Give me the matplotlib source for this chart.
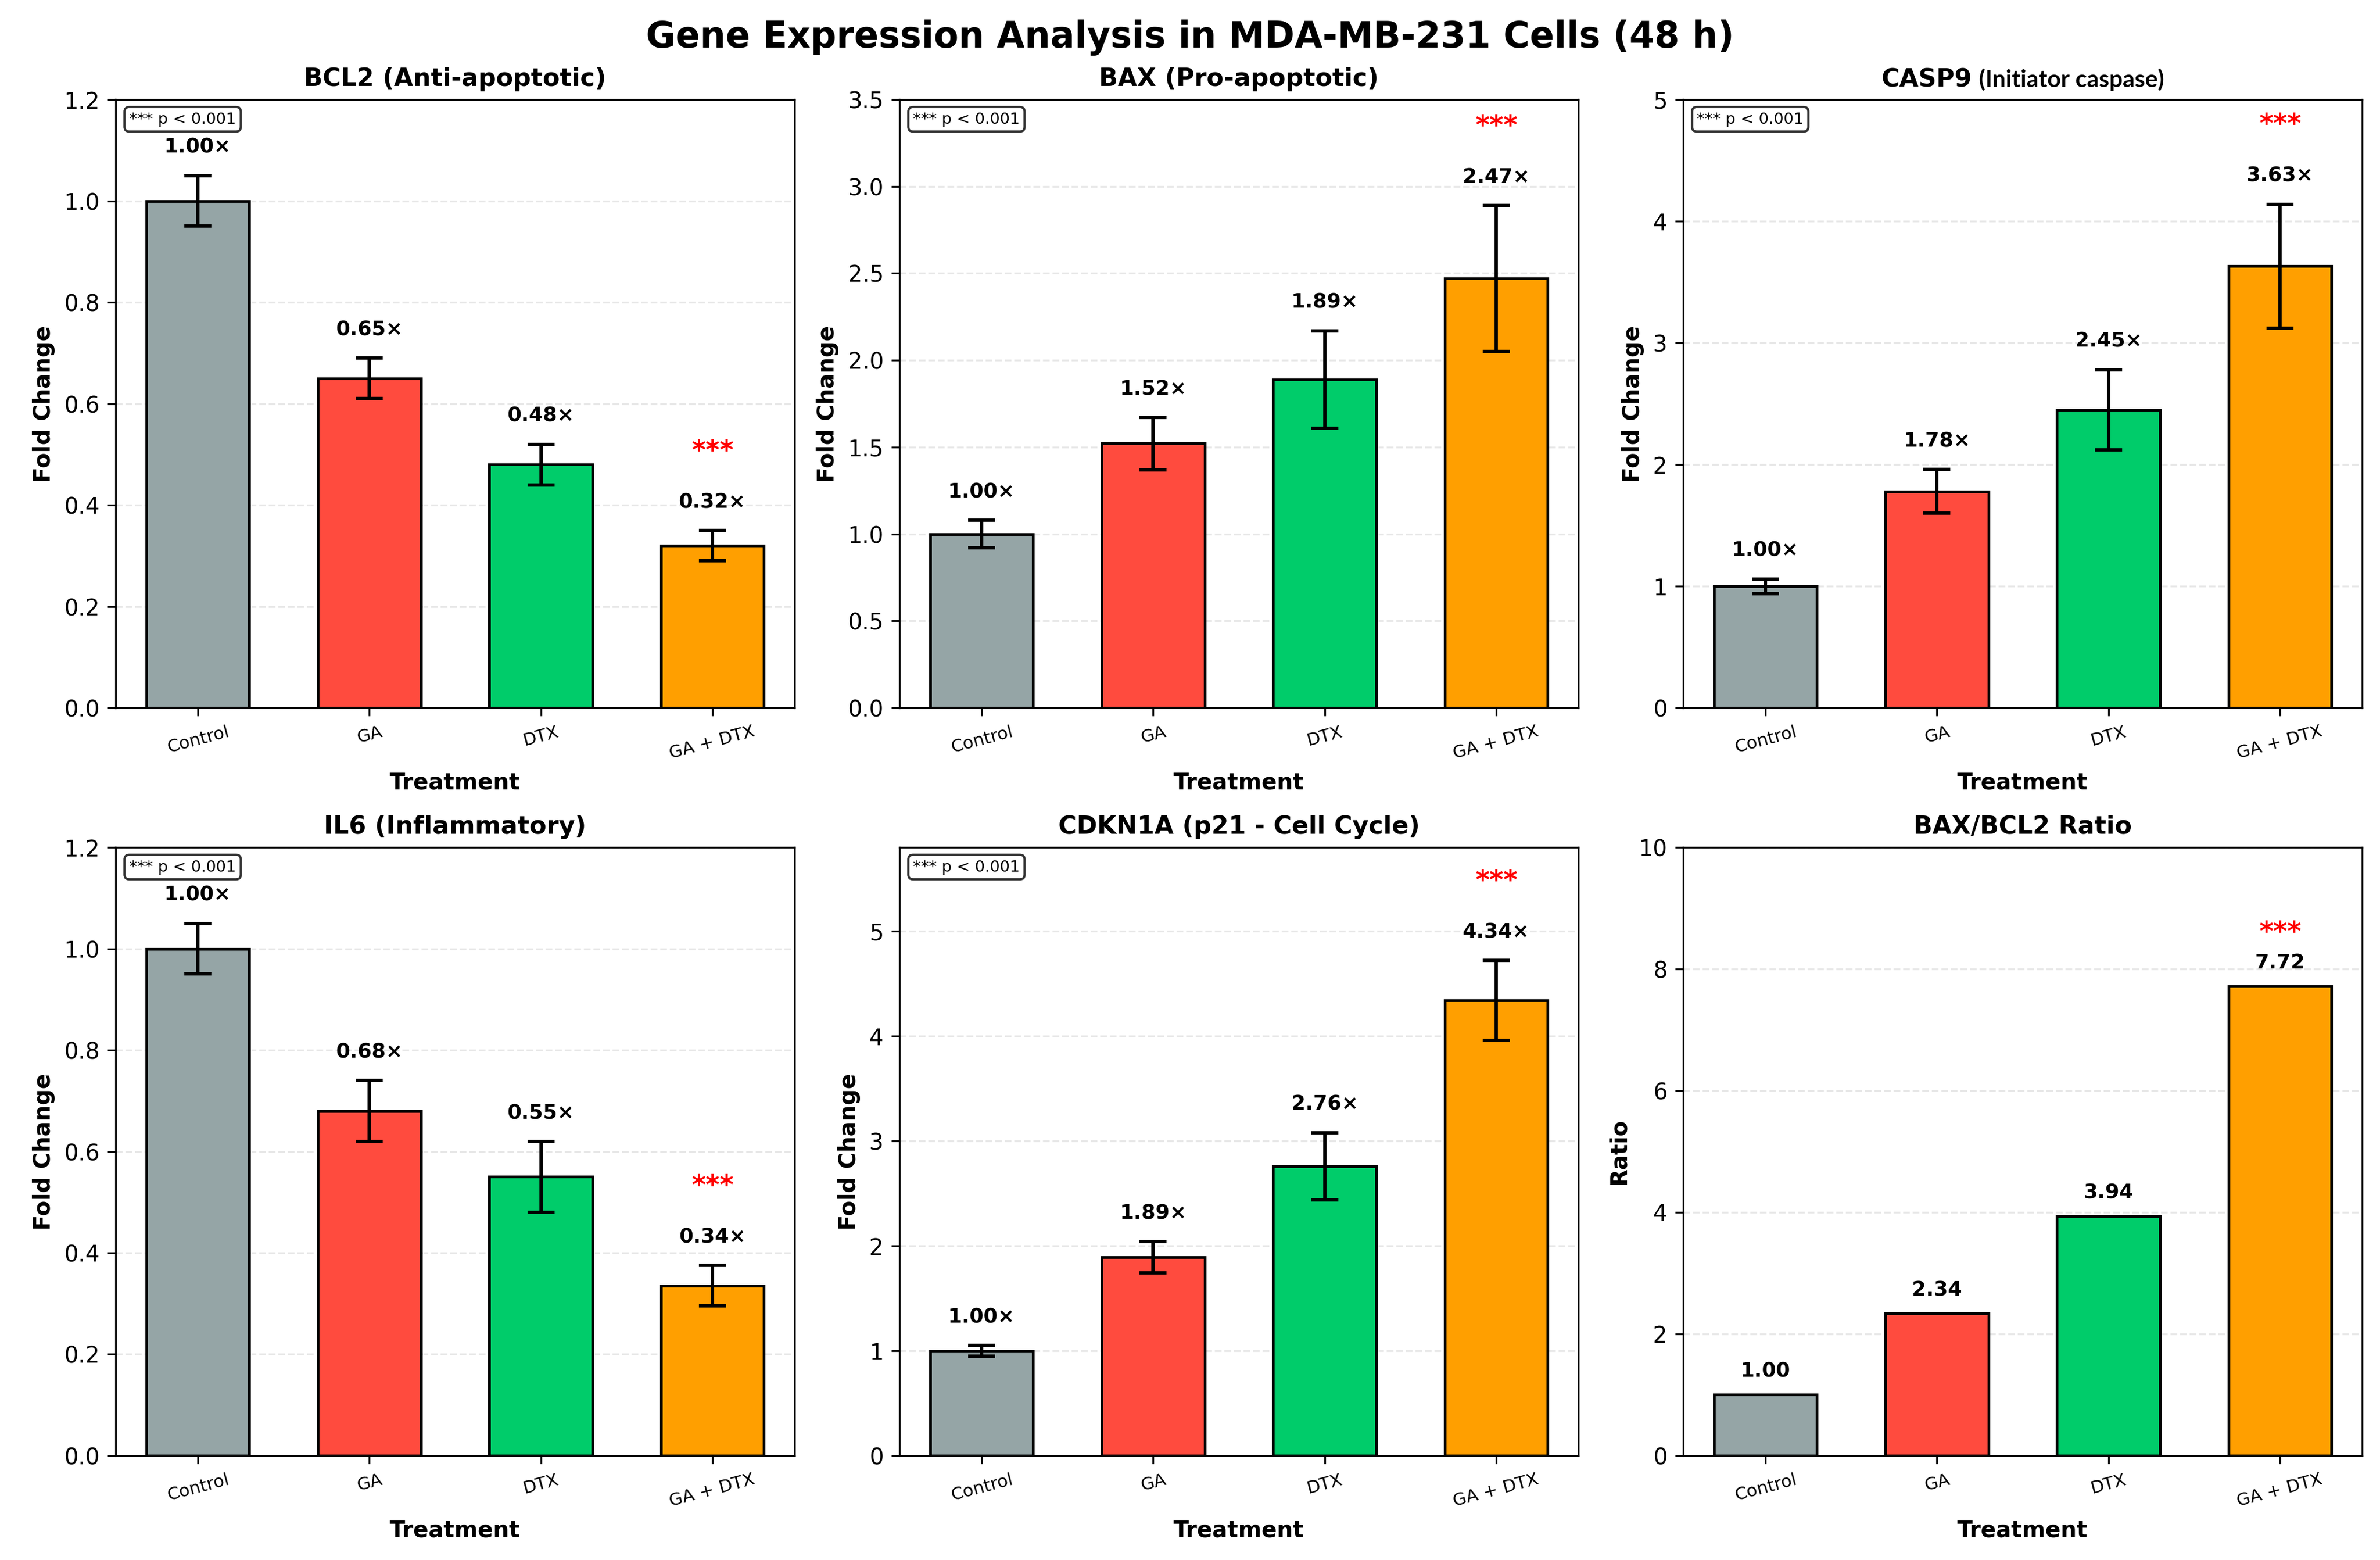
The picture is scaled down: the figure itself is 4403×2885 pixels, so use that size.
import numpy as np
import matplotlib.pyplot as plt
from matplotlib.offsetbox import TextArea, HPacker, AnchoredOffsetbox

treatments = ['Control', 'GA', 'DTX', 'GA + DTX']
colors = ['#95A5A6', '#FF4B3E', '#00CC6A', '#FF9F00']

bcl2 = [1.00, 0.65, 0.48, 0.32]
bcl2_err = [0.05, 0.04, 0.04, 0.03]
bax = [1.00, 1.52, 1.89, 2.47]
bax_err = [0.08, 0.15, 0.28, 0.42]
casp9 = [1.00, 1.78, 2.45, 3.63]
casp9_err = [0.06, 0.18, 0.33, 0.51]
il6 = [1.00, 0.68, 0.55, 0.335]
il6_err = [0.05, 0.06, 0.07, 0.04]
cdkn1a = [1.00, 1.89, 2.76, 4.34]
cdkn1a_err = [0.05, 0.15, 0.32, 0.38]

# BAX/BCL2 ratio from the two panels above
ratio = np.array(bax) / np.array(bcl2)

panels = [
    ('BCL2 (Anti-apoptotic)', bcl2, bcl2_err, 1.2),
    ('BAX (Pro-apoptotic)', bax, bax_err, 3.5),
    ('CASP9', casp9, casp9_err, 5.0),
    ('IL6 (Inflammatory)', il6, il6_err, 1.2),
    ('CDKN1A (p21 - Cell Cycle)', cdkn1a, cdkn1a_err, 5.8),
]

fig, axes = plt.subplots(2, 3, figsize=(4403 / 300, 2885 / 300), dpi=300)
plt.subplots_adjust(left=0.0486, right=0.9925, top=0.9362, bottom=0.0669,
                    wspace=0.1545, hspace=0.2293)
axes = axes.flatten()
x = np.arange(len(treatments))

for ax, (title, vals, errs, ymax) in zip(axes[:5], panels):
    ax.bar(x, vals, width=0.6, color=colors, edgecolor='black', linewidth=1.2,
           yerr=errs, capsize=6, error_kw={'elinewidth': 1.5, 'capthick': 1.5})
    ax.set_ylim(0, ymax)
    for i, (v, e) in enumerate(zip(vals, errs)):
        ax.text(i, v + e + 0.03 * ymax, f'{v:.2f}×', ha='center', va='bottom',
                fontsize=9, fontweight='bold')
    top = vals[-1] + errs[-1]
    ax.text(3, top + 0.13 * ymax, '***', ha='center', va='center',
            fontsize=12, fontweight='bold', color='red')
    ax.text(0.02, 0.98, '*** p < 0.001', transform=ax.transAxes, fontsize=7,
            va='top', bbox=dict(boxstyle='round', facecolor='white', alpha=0.8))
    ax.set_ylabel('Fold Change', fontsize=10, fontweight='bold')
    if title == 'CASP9':
        t1 = TextArea('CASP9', textprops=dict(fontsize=11, fontweight='bold'))
        t2 = TextArea('(Initiator caspase)',
                      textprops=dict(fontsize=10.5, family='Lato', fontweight='bold'))
        hp = HPacker(children=[t1, t2], align='baseline', pad=0, sep=3)
        anc = AnchoredOffsetbox(loc='lower center', child=hp, pad=0, borderpad=0,
                                frameon=False, bbox_to_anchor=(0.5, 1.012),
                                bbox_transform=ax.transAxes)
        ax.add_artist(anc)
    else:
        ax.set_title(title, fontsize=11, fontweight='bold')

# ratio panel
ax = axes[5]
ax.bar(x, ratio, width=0.6, color=colors, edgecolor='black', linewidth=1.2)
ax.set_ylim(0, 10)
for i, v in enumerate(ratio):
    ax.text(i, v + 0.22, f'{v:.2f}', ha='center', va='bottom',
            fontsize=9, fontweight='bold')
ax.text(3, ratio[-1] + 0.88, '***', ha='center', va='center',
        fontsize=12, fontweight='bold', color='red')
ax.set_ylabel('Ratio', fontsize=10, fontweight='bold')
ax.set_title('BAX/BCL2 Ratio', fontsize=11, fontweight='bold')

for ax in axes:
    ax.set_xticks(x)
    ax.set_xticklabels(treatments, rotation=15, fontsize=7.8)
    ax.set_xlabel('Treatment', fontsize=10, fontweight='bold')
    ax.yaxis.grid(True, linestyle='--', alpha=0.3)
    ax.set_axisbelow(True)

fig.suptitle('Gene Expression Analysis in MDA-MB-231 Cells (48 h)',
             fontsize=16, fontweight='bold', y=0.976, va='center')

plt.savefig('out.png', dpi=300)
plt.close()
